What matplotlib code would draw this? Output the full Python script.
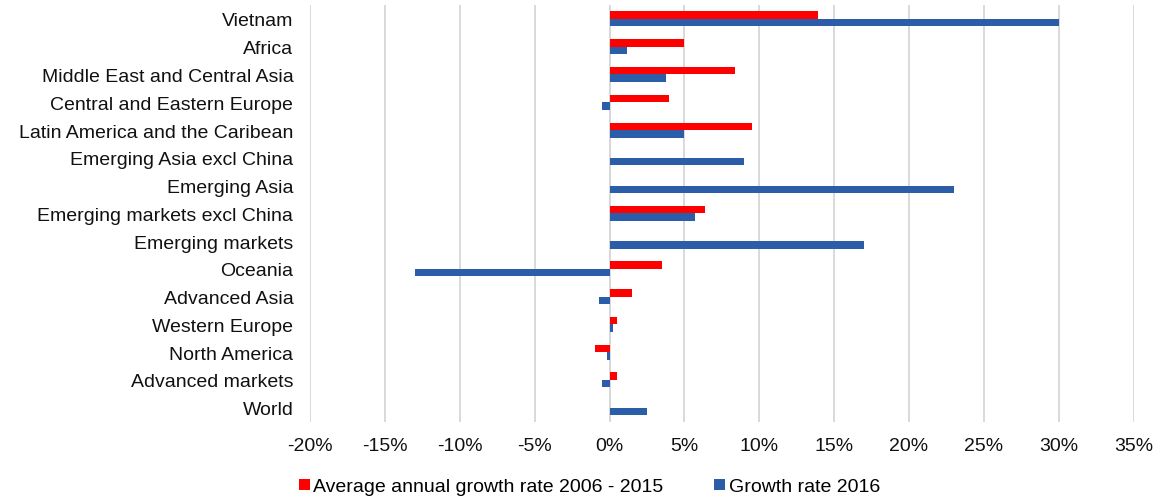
import numpy as np
import matplotlib.pyplot as plt
from matplotlib.ticker import FuncFormatter

plt.rcParams['font.family'] = ['Liberation Sans', 'DejaVu Sans']

# Datos (porcentaje)
regiones = ['Vietnam', 'Africa', 'Middle East and Central Asia',
            'Central and Eastern Europe', 'Latin America and the Caribean',
            'Emerging Asia excl China', 'Emerging Asia',
            'Emerging markets excl China', 'Emerging markets', 'Oceania',
            'Advanced Asia', 'Western Europe', 'North America',
            'Advanced markets', 'World']
media_2006_2015 = [13.9, 5.0, 8.4, 4.0, 9.5, np.nan, np.nan, 6.4, np.nan,
                   3.5, 1.5, 0.5, -1.0, 0.5, np.nan]
crec_2016 = [30.0, 1.2, 3.8, -0.5, 5.0, 9.0, 23.0, 5.7, 17.0,
             -13.0, -0.7, 0.2, -0.2, -0.5, 2.5]

rojo = '#FF0000'
azul = '#2B5DA8'

fig = plt.figure(figsize=(11.58, 5.02), dpi=100)
ax = fig.add_axes([0.2677, 0.157, 0.7113, 0.831])

y = np.arange(len(regiones))
h = 0.27
ax.barh(y - h / 2, media_2006_2015, height=h, color=rojo,
        label='Average annual growth rate 2006 - 2015', zorder=3)
ax.barh(y + h / 2, crec_2016, height=h, color=azul,
        label='Growth rate 2016', zorder=3)

ax.set_ylim(14.52, -0.5)
ax.set_xlim(-20, 35)
ax.set_xticks(np.arange(-20, 36, 5))
ax.xaxis.set_major_formatter(FuncFormatter(lambda v, p: f'{v:.0f}%'))
ax.set_yticks(y)
ax.set_yticklabels(regiones)

ax.grid(axis='x', color='#D9D9D9', linewidth=1.4, zorder=0)
ax.axvline(0, color='#D0D0D0', linewidth=1.4, zorder=1)
for s in ax.spines.values():
    s.set_visible(False)
ax.tick_params(axis='both', length=0, labelsize=14, labelcolor='#111111')
ax.tick_params(axis='x', pad=11)
ax.tick_params(axis='y', pad=12)

fig.legend(loc='center', bbox_to_anchor=(0.509, 0.028), ncol=2, frameon=False,
           fontsize=14, handlelength=0.55, handleheight=0.55,
           handletextpad=0.2, columnspacing=2.6)

fig.savefig('out.png', dpi=100)
